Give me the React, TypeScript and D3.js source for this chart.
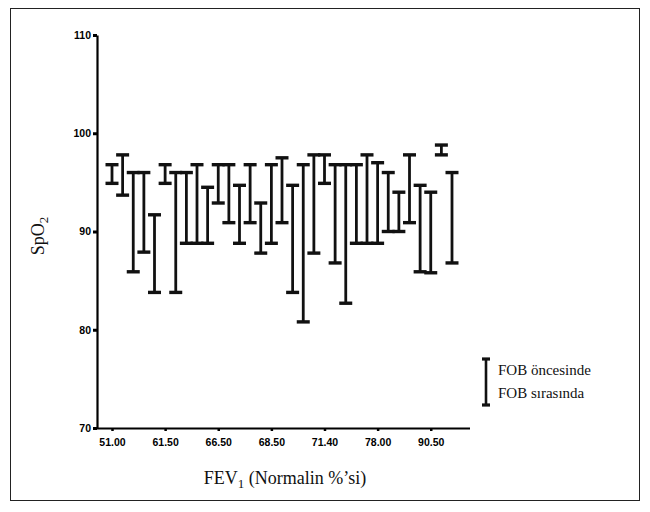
import React, { useEffect, useRef } from "react";
import * as d3 from "d3";

// SpO2 before (top of bar) and during (bottom of bar) FOB, one per patient
const before = [
  96.8, 97.8, 96.0, 96.0, 91.7, 96.8, 96.0, 96.0, 96.8, 94.5, 96.8,
  96.8, 94.7, 96.8, 92.9, 96.8, 97.5, 94.7, 96.8, 97.8, 97.8, 96.8,
  96.8, 96.8, 97.8, 97.0, 96.0, 94.0, 97.8, 94.7, 94.0, 98.8, 96.0,
];
const during = [
  94.9, 93.7, 85.9, 87.9, 83.8, 94.9, 83.8, 88.8, 88.8, 88.8, 92.9,
  90.9, 88.8, 90.9, 87.8, 88.8, 90.9, 83.8, 80.8, 87.8, 94.9, 86.8,
  82.7, 88.8, 88.8, 88.8, 90.0, 90.0, 90.9, 85.9, 85.8, 97.8, 86.8,
];
// FEV1 labels shown under every 5th patient
const fevLabels = ["51.00", "61.50", "66.50", "68.50", "71.40", "78.00", "90.50"];
const yTicks = [70, 80, 90, 100, 110];

const W = 650,
  H = 512;

export default function App() {
  const xAxisRef = useRef<SVGGElement>(null);
  const yAxisRef = useRef<SVGGElement>(null);

  const idx = before.map((_, i) => i);
  const x = d3.scalePoint<number>().domain(idx).range([112, 452]);
  const y = d3.scaleLinear().domain([70, 110]).range([428, 35]);

  useEffect(() => {
    const labelled = idx.filter((i) => i % 5 === 0);
    const xAxis = d3
      .axisBottom(x)
      .tickValues(labelled)
      .tickSize(3)
      .tickSizeOuter(0)
      .tickFormat((d) => fevLabels[(d as number) / 5] || "");
    const gx = d3.select(xAxisRef.current!).call(xAxis);
    gx.select(".domain").attr("d", `M97,0.5H470`).attr("stroke-width", 2.2);
    gx.selectAll(".tick line").attr("stroke-width", 2.5);
    gx.selectAll(".tick text")
      .attr("font-family", "Liberation Sans, Arial, sans-serif")
      .attr("font-weight", "900")
      .attr("font-size", 10.5)
      .attr("fill", "#000")
      .attr("dy", "1.1em");

    const yAxis = d3.axisLeft(y).tickValues(yTicks).tickSize(4).tickSizeOuter(0);
    const gy = d3.select(yAxisRef.current!).call(yAxis);
    gy.select(".domain").attr("stroke-width", 2.2);
    gy.selectAll(".tick line").attr("stroke-width", 3);
    gy.selectAll(".tick text")
      .attr("font-family", "Liberation Sans, Arial, sans-serif")
      .attr("font-weight", "900")
      .attr("font-size", 10.5)
      .attr("fill", "#000")
      .attr("x", -6);
  }, []);

  const cap = 6.5;

  return (
    <svg
      width={W}
      height={H}
      style={{ position: "absolute", left: 0, top: 0, background: "#fff" }}
    >
      <rect x={10.5} y={8.5} width={629} height={492} fill="none" stroke="#222" strokeWidth={1} />

      <g ref={yAxisRef} transform="translate(97,0)" />
      <g ref={xAxisRef} transform="translate(0,428)" />

      {idx.map((i) => {
        const cx = x(i)!;
        const y0 = y(before[i]);
        const y1 = y(during[i]);
        return (
          <g key={i} stroke="#111">
            <line x1={cx} x2={cx} y1={y0} y2={y1} strokeWidth={2.8} />
            <line x1={cx - cap} x2={cx + cap} y1={y0} y2={y0} strokeWidth={3.4} />
            <line x1={cx - cap} x2={cx + cap} y1={y1} y2={y1} strokeWidth={3.4} />
          </g>
        );
      })}

      {/* axis titles */}
      <text
        transform="translate(44,236) rotate(-90)"
        textAnchor="middle"
        fontFamily="Liberation Serif, Times New Roman, serif"
        fontSize={18}
        fill="#111"
      >
        SpO
        <tspan fontSize={13} dy={4}>
          2
        </tspan>
      </text>
      <text
        x={285}
        y={484}
        textAnchor="middle"
        fontFamily="Liberation Serif, Times New Roman, serif"
        fontSize={18}
        fill="#111"
      >
        FEV
        <tspan fontSize={13} dy={4}>
          1
        </tspan>
        <tspan dy={-4}> (Normalin %’si)</tspan>
      </text>

      {/* legend */}
      <g stroke="#111">
        <line x1={486} x2={486} y1={359} y2={405} strokeWidth={2.6} />
        <line x1={482} x2={490} y1={359} y2={359} strokeWidth={3.2} />
        <line x1={482} x2={490} y1={405} y2={405} strokeWidth={3.2} />
      </g>
      <g fontFamily="Liberation Serif, Times New Roman, serif" fontSize={15} fill="#111">
        <text x={498} y={375}>
          FOB öncesinde
        </text>
        <text x={498} y={398}>
          FOB sırasında
        </text>
      </g>
    </svg>
  );
}
